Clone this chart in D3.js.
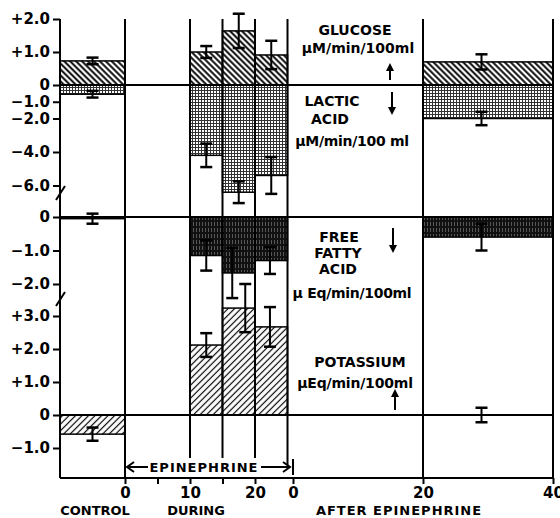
<!DOCTYPE html>
<html>
<head>
<meta charset="utf-8">
<script src="https://cdn.jsdelivr.net/npm/d3@7"></script>
<style>
  body { margin: 0; background: #fff; }
  text { font-family: "DejaVu Sans", sans-serif; font-weight: bold; fill: #000; }
</style>
</head>
<body>
<div id="chart"></div>
<script>
// bars: control, during 10-15, 15-20, 20-25, after 20-40
const barPeriod = ["control", "during", "during", "during", "after"];
const barFrom = [-10, 10, 15, 20, 20];
const barTo = [0, 15, 20, 25, 40];
const errT = [-5, 12.5, 17.5, 22.5, 29];
const ffaErrT = [-5, 12.5, 16.5, 22.3, 29];
const kErrT = [-5, 12.5, 18.5, 22.3, 29];

const glucose = [0.73, 1.0, 1.64, 0.91, 0.7];
const glucoseSE = [0.1, 0.18, 0.52, 0.43, 0.23];
const lactic = [-0.55, -4.2, -6.4, -5.4, -2.0];
const lacticSE = [0.2, 0.7, 0.65, 1.1, 0.4];
const ffa = [-0.05, -1.15, -1.67, -1.3, -0.6];
const ffaSE = [0.15, 0.45, 0.75, 0.4, 0.4];
const potassium = [-0.58, 2.12, 3.24, 2.67, 0];
const potassiumSE = [0.2, 0.36, 0.73, 0.6, 0.22];

const glucoseTicks = [2, 1, 0];
const lacticTicks = [-1, -2, -4, -6];
const ffaTicks = [0, -1, -2];
const potassiumTicks = [3, 2, 1, 0, -1];
const duringTicks = [0, 5, 10, 15, 20];
const duringLabels = [0, 10, 20];
const afterTicks = [0, 20, 40];
const gridDuring = [10, 15, 20];

var width = 560, height = 518;
var svg = d3.select("#chart").append("svg")
    .attr("width", width).attr("height", height);

// time scales (same minutes-per-pixel everywhere)
var xControl = d3.scaleLinear().domain([-10, 0]).range([60, 125]);
var xDuring = d3.scaleLinear().domain([0, 25]).range([125, 287.5]);
var xAfter = d3.scaleLinear().domain([0, 40]).range([293, 553]);
var xOf = { control: xControl, during: xDuring, after: xAfter };

// value scales, one per panel
var yGlu = d3.scaleLinear().domain([0, 2]).range([85, 19]);
var yLac = d3.scaleLinear().domain([0, -6]).range([85, 185.5]);
var yFfa = d3.scaleLinear().domain([0, -2]).range([217, 284]);
var yK = d3.scaleLinear().domain([-1, 3]).range([448, 316]);
var yBottom = 478;

// fill patterns
var defs = svg.append("defs");
function hatch(id, angle, size, sw) {
  var p = defs.append("pattern").attr("id", id)
    .attr("patternUnits", "userSpaceOnUse")
    .attr("width", size).attr("height", size)
    .attr("patternTransform", "rotate(" + angle + ")");
  p.append("rect").attr("width", size).attr("height", size).attr("fill", "#fff");
  p.append("line").attr("x1", size / 2).attr("x2", size / 2)
    .attr("y1", 0).attr("y2", size)
    .attr("stroke", "#000").attr("stroke-width", sw);
}
hatch("pGlu", -45, 4.2, 1.9);
hatch("pK", 45, 4.6, 1.2);

var pl = defs.append("pattern").attr("id", "pLac")
  .attr("patternUnits", "userSpaceOnUse").attr("width", 3).attr("height", 3);
pl.append("rect").attr("width", 3).attr("height", 3).attr("fill", "#fff");
pl.append("rect").attr("width", 3).attr("height", 1).attr("fill", "#333");
pl.append("rect").attr("width", 1).attr("height", 3).attr("fill", "#333");

var pf = defs.append("pattern").attr("id", "pFfa")
  .attr("patternUnits", "userSpaceOnUse").attr("width", 3).attr("height", 6);
pf.append("rect").attr("width", 3).attr("height", 6).attr("fill", "#111");
pf.append("line").attr("x1", 1.5).attr("x2", 1.5).attr("y1", 0).attr("y2", 4)
  .attr("stroke", "#777").attr("stroke-width", 0.7);

// bars
function drawBars(values, y, fill) {
  svg.append("g").selectAll("rect")
    .data(values)
    .join("rect")
      .attr("x", (d, i) => xOf[barPeriod[i]](barFrom[i]))
      .attr("width", (d, i) => xOf[barPeriod[i]](barTo[i]) - xOf[barPeriod[i]](barFrom[i]))
      .attr("y", d => Math.min(y(0), y(d)))
      .attr("height", d => Math.abs(y(d) - y(0)))
      .attr("fill", fill)
      .attr("stroke", "#000")
      .attr("stroke-width", 1.5);
}
drawBars(glucose, yGlu, "url(#pGlu)");
drawBars(lactic, yLac, "url(#pLac)");
drawBars(ffa, yFfa, "url(#pFfa)");
drawBars(potassium, yK, "url(#pK)");

// frame lines
var frame = svg.append("g").attr("stroke", "#000").attr("stroke-width", 2).attr("fill", "none");
[yGlu(0), yFfa(0), yK(0), yBottom].forEach(function(yy) {
  frame.append("line").attr("x1", 60).attr("x2", 553).attr("y1", yy).attr("y2", yy);
});
[xControl(-10), xControl(0), xAfter(20), xAfter(40)].forEach(function(xx) {
  frame.append("line").attr("x1", xx).attr("x2", xx).attr("y1", 19).attr("y2", yBottom);
});
gridDuring.forEach(function(t) {
  frame.append("line").attr("x1", xDuring(t)).attr("x2", xDuring(t)).attr("y1", 19).attr("y2", 458);
});
frame.append("line").attr("x1", xDuring(25)).attr("x2", xDuring(25)).attr("y1", 19).attr("y2", 465);

// axis breaks
[193, 299].forEach(function(yy) {
  frame.append("line").attr("x1", 56).attr("x2", 65).attr("y1", yy + 7).attr("y2", yy - 7)
    .attr("stroke-width", 2);
});

// error bars
function drawErr(values, se, y, tpos) {
  var g = svg.append("g").attr("stroke", "#000").attr("fill", "none");
  values.forEach(function(v, i) {
    var xx = xOf[barPeriod[i]](tpos[i]);
    var hi = y(v + se[i]), lo = y(v - se[i]);
    g.append("line").attr("x1", xx).attr("x2", xx).attr("y1", hi).attr("y2", lo).attr("stroke-width", 2);
    [hi, lo].forEach(function(yy) {
      g.append("line").attr("x1", xx - 6).attr("x2", xx + 6).attr("y1", yy).attr("y2", yy).attr("stroke-width", 2.5);
    });
  });
}
drawErr(glucose, glucoseSE, yGlu, errT);
drawErr(lactic, lacticSE, yLac, errT);
drawErr(ffa, ffaSE, yFfa, ffaErrT);
drawErr(potassium, potassiumSE, yK, kErrT);

// y axes
function fmt(d) {
  if (d === 0) return "0";
  return (d > 0 ? "+" : "\u2212") + Math.abs(d).toFixed(1);
}
function yAxis(scale, ticks) {
  var g = svg.append("g").attr("transform", "translate(60,0)")
    .call(d3.axisLeft(scale).tickValues(ticks).tickFormat(fmt).tickSize(7).tickPadding(3));
  g.select(".domain").remove();
  g.selectAll(".tick line").attr("stroke-width", 2);
  g.selectAll("text").style("font-size", "15px").style("font-family", "DejaVu Sans, sans-serif")
    .style("font-weight", "bold");
}
yAxis(yGlu, glucoseTicks);
yAxis(yLac, lacticTicks);
yAxis(yFfa, ffaTicks);
yAxis(yK, potassiumTicks);

// x axes
function xAxis(scale, ticks, labels) {
  var g = svg.append("g").attr("transform", "translate(0," + yBottom + ")")
    .call(d3.axisBottom(scale).tickValues(ticks)
      .tickFormat(d => labels.indexOf(d) >= 0 ? d : "").tickSize(6).tickPadding(3));
  g.select(".domain").remove();
  g.selectAll(".tick line").attr("stroke-width", 2);
  g.selectAll("text").style("font-size", "15px").style("font-family", "DejaVu Sans, sans-serif")
    .style("font-weight", "bold");
}
xAxis(xDuring, duringTicks, duringLabels);
xAxis(xAfter, afterTicks, afterTicks);

// period labels
var lab = svg.append("g").style("font-size", "13px").attr("text-anchor", "middle");
lab.append("text").attr("x", 95).attr("y", 515).text("CONTROL");
lab.append("text").attr("x", 196).attr("y", 515).text("DURING");
lab.append("text").attr("x", 399).attr("y", 515).attr("letter-spacing", 1).text("AFTER EPINEPHRINE");

// epinephrine arrow
var ea = svg.append("g").attr("stroke", "#000").attr("stroke-width", 2).attr("fill", "none");
ea.append("line").attr("x1", 127).attr("x2", 148).attr("y1", 467).attr("y2", 467);
ea.append("line").attr("x1", 261).attr("x2", 290).attr("y1", 467).attr("y2", 467);
ea.append("path").attr("d", "M134,462 L127,467 L134,472");
ea.append("path").attr("d", "M283,462 L290,467 L283,472");
ea.append("line").attr("x1", 293).attr("x2", 293).attr("y1", 459).attr("y2", 475);
svg.append("text").attr("x", 204).attr("y", 472).attr("text-anchor", "middle")
  .style("font-size", "13px").attr("letter-spacing", 1).text("EPINEPHRINE");

// panel labels
var tl = svg.append("g").attr("text-anchor", "middle").style("font-size", "14px");
function label(x, y, s, ls) {
  tl.append("text").attr("x", x).attr("y", y).attr("letter-spacing", ls || 0).text(s);
}
label(355, 35, "GLUCOSE", 0);
label(358, 53, "\u03bcM/min/100ml", 0);
label(332, 106, "LACTIC", 0);
label(330, 124, "ACID", 0);
label(352, 146, "\u03bcM/min/100 ml", -0.3);
label(339, 242, "FREE", 0);
label(338, 258, "FATTY", 0);
label(338, 274, "ACID", 0);
label(352, 298, "\u03bc Eq/min/100ml", -0.3);
label(360, 367, "POTASSIUM", 0);
label(355, 388, "\u03bcEq/min/100ml", -0.2);

// direction arrows
function arrow(x, yTail, yTip) {
  var dir = yTip < yTail ? 1 : -1;
  var g = svg.append("g");
  g.append("line").attr("x1", x).attr("x2", x).attr("y1", yTail).attr("y2", yTip + dir * 6)
    .attr("stroke", "#000").attr("stroke-width", 2);
  g.append("path").attr("d", "M" + (x - 4) + "," + (yTip + dir * 8) + " L" + x + "," + yTip +
      " L" + (x + 4) + "," + (yTip + dir * 8) + " Z").attr("fill", "#000");
}
arrow(390, 80, 63);
arrow(392, 92, 115);
arrow(393, 228, 253);
arrow(395, 410, 389);
</script>
</body>
</html>
